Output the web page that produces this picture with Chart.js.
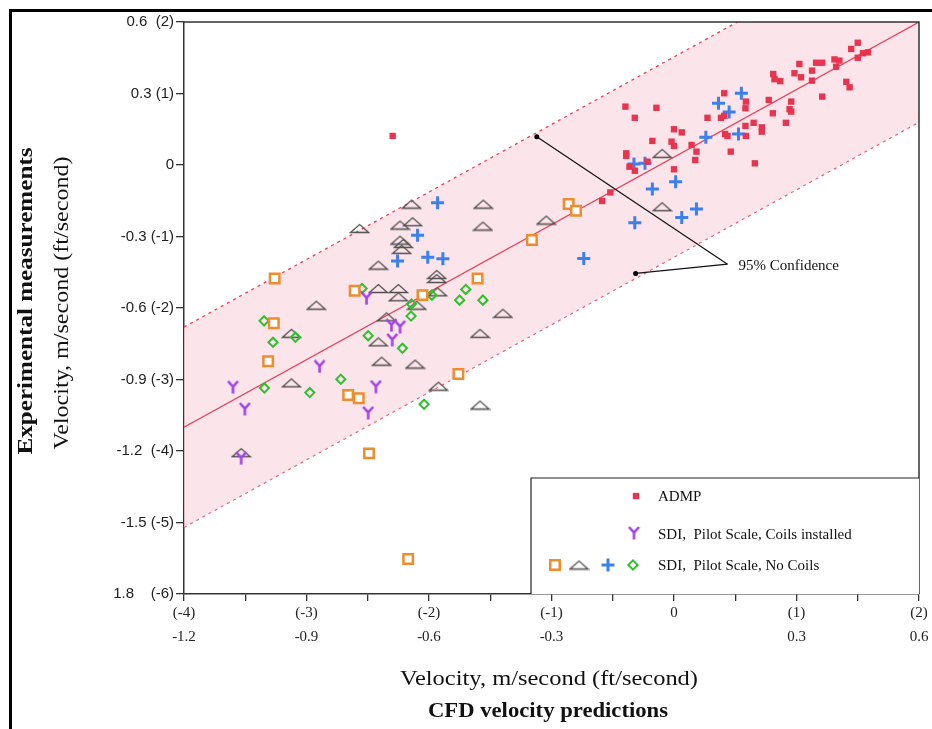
<!DOCTYPE html>
<html>
<head>
<meta charset="utf-8">
<script src="https://cdn.jsdelivr.net/npm/chart.js@4.4.1/dist/chart.umd.min.js"></script>
<style>
  html, body { margin: 0; padding: 0; background: #fff; }
  canvas { display: block; }
</style>
</head>
<body>
<canvas id="velChart" width="932" height="729"></canvas>
<script>
const admp = [
  [0.450, 0.513], [0.434, 0.487], [0.475, 0.473], [0.463, 0.469], [0.450, 0.450], [0.393, 0.443],
  [0.405, 0.438], [0.348, 0.429], [0.363, 0.429], [0.307, 0.424], [0.397, 0.412], [0.338, 0.396],
  [0.295, 0.385], [0.311, 0.368], [0.243, 0.382], [0.246, 0.360], [0.260, 0.352], [0.338, 0.354],
  [0.422, 0.349], [0.430, 0.326], [0.363, 0.287], [0.123, 0.301], [0.176, 0.266], [0.175, 0.238],
  [0.232, 0.273], [0.287, 0.266], [0.283, 0.234], [0.287, 0.224], [0.242, 0.217], [-0.119, 0.245],
  [-0.043, 0.240], [-0.096, 0.198], [0.082, 0.198], [0.115, 0.198], [0.123, 0.206], [0.195, 0.177],
  [0.274, 0.177], [0.000, 0.150], [0.019, 0.137], [0.175, 0.164], [0.215, 0.158], [0.215, 0.140],
  [0.125, 0.130], [0.131, 0.122], [0.176, 0.122], [-0.053, 0.101], [-0.006, 0.098], [0.000, 0.080],
  [0.043, 0.084], [0.055, 0.056], [0.139, 0.056], [-0.117, 0.049], [-0.117, 0.038], [0.052, 0.021],
  [-0.065, 0.014], [-0.109, -0.007], [-0.096, -0.024], [0.000, -0.018], [0.198, 0.007],
  [-0.156, -0.115], [-0.176, -0.151], [-0.689, 0.122]
];
const sdiCoils = [
  [-0.753, -0.559], [-0.692, -0.672], [-0.671, -0.679], [-0.690, -0.734], [-0.868, -0.845],
  [-1.080, -0.932], [-1.051, -1.024], [-0.730, -0.930], [-0.749, -1.040], [-1.060, -1.230]
];
const sdiSquares = [
  [-0.978, -0.476], [-0.348, -0.315], [-0.782, -0.528], [-0.616, -0.546], [-0.481, -0.476],
  [-0.980, -0.664], [-0.994, -0.823], [-0.798, -0.965], [-0.772, -0.979], [-0.528, -0.877],
  [-0.747, -1.210], [-0.651, -1.653], [-0.258, -0.164], [-0.240, -0.192]
];
const sdiTriangles = [
  [-0.643, -0.164], [-0.467, -0.164], [-0.313, -0.231], [-0.770, -0.266], [-0.671, -0.252],
  [-0.640, -0.238], [-0.468, -0.256], [-0.671, -0.315], [-0.663, -0.329], [-0.667, -0.354],
  [-0.724, -0.420], [-0.581, -0.459], [-0.581, -0.476], [-0.579, -0.532], [-0.724, -0.518],
  [-0.675, -0.518], [-0.675, -0.553], [-0.630, -0.588], [-0.876, -0.588], [-0.419, -0.622],
  [-0.704, -0.637], [-0.937, -0.706], [-0.475, -0.706], [-0.724, -0.742], [-0.716, -0.823],
  [-0.634, -0.835], [-0.937, -0.914], [-0.577, -0.928], [-0.475, -1.007], [-1.060, -1.207],
  [-0.029, 0.049], [-0.029, -0.175]
];
const sdiPlus = [
  [-0.579, -0.158], [-0.628, -0.295], [-0.677, -0.403], [-0.603, -0.387], [-0.566, -0.393],
  [0.165, 0.301], [0.109, 0.259], [0.135, 0.222], [0.078, 0.116], [0.158, 0.130],
  [-0.098, 0.004], [-0.071, 0.007], [0.004, -0.070], [-0.053, -0.101], [0.055, -0.185],
  [0.019, -0.220], [-0.096, -0.242], [-0.221, -0.392]
];
const sdiDiamonds = [
  [-0.764, -0.518], [-1.004, -0.654], [-0.927, -0.723], [-0.982, -0.744], [-0.749, -0.716],
  [-0.643, -0.583], [-0.644, -0.634], [-0.593, -0.546], [-0.510, -0.522], [-0.525, -0.567],
  [-0.468, -0.567], [-0.665, -0.769], [-0.816, -0.899], [-1.003, -0.936], [-0.892, -0.955],
  [-0.612, -1.004]
];

// regression line and 95% band
const fitX = [-1.2, 0.6];
const fitY = [-1.10, 0.60];
const upperY = [-0.68, 1.02];
const lowerY = [-1.52, 0.18];
// "95% Confidence" leader lines
const leaderTop = [[-0.336, 0.119], [0.131, -0.416]];
const leaderBottom = [[-0.094, -0.455], [0.131, -0.416]];

const xTickLabels = [['(-4)', '-1.2'], '', ['(-3)', '-0.9'], '', ['(-2)', '-0.6'], '', ['(-1)', '-0.3'], '',
  ['0', ''], '', ['(1)', '0.3'], '', ['(2)', '0.6']];
const yTickLabels = ['1.8    (-6)', '-1.5 (-5)', '-1.2  (-4)', '-0.9 (-3)', '-0.6 (-2)',
  '-0.3 (-1)', '0', '0.3 (1)', '0.6  (2)'];

const RED = '#e8344f';
const PURPLE = '#a043ee';
const ORANGE = '#ef8c2c';
const GREY = '#505050';
const BLUE = '#3b80ee';
const GREEN = '#2ec02e';
const BAND = '#e8405a';

const pts = arr => arr.map(p => ({ x: p[0], y: p[1] }));
const line = (xs, ys) => xs.map((x, i) => ({ x: x, y: ys[i] }));

// custom marker shapes
function makeY() {
  const c = document.createElement('canvas');
  c.width = 13; c.height = 14;
  const g = c.getContext('2d');
  g.strokeStyle = PURPLE; g.lineWidth = 2.6; g.lineCap = 'butt';
  g.beginPath();
  g.moveTo(1.5, 1); g.lineTo(6.5, 6.5); g.lineTo(11.5, 1);
  g.moveTo(6.5, 6.5); g.lineTo(6.5, 13.5);
  g.stroke();
  return c;
}
function makeTri() {
  const c = document.createElement('canvas');
  c.width = 21; c.height = 11;
  const g = c.getContext('2d');
  g.strokeStyle = GREY; g.lineWidth = 1.3;
  g.beginPath();
  g.moveTo(1.5, 9.5); g.lineTo(10.5, 1.5); g.lineTo(19.5, 9.5); g.closePath();
  g.stroke();
  return c;
}
const yMark = makeY();
const triMark = makeTri();

function fitText(ctx, text, font, cx, cy, w, rot) {
  ctx.save();
  ctx.font = font;
  const m = ctx.measureText(text).width;
  ctx.translate(cx, cy);
  ctx.rotate(rot);
  ctx.scale(w / m, 1);
  ctx.textAlign = 'center';
  ctx.textBaseline = 'middle';
  ctx.fillStyle = '#111';
  ctx.fillText(text, 0, 0);
  ctx.restore();
}

function marker(ctx, style, radius, bw, fill, stroke, x, y) {
  ctx.save();
  ctx.fillStyle = fill;
  ctx.strokeStyle = stroke;
  ctx.lineWidth = bw;
  Chart.helpers.drawPoint(ctx, { pointStyle: style, radius: radius, rotation: 0, borderWidth: bw }, x, y);
  ctx.restore();
}

const extras = {
  id: 'extras',
  afterDraw(chart) {
    const ctx = chart.ctx;
    const a = chart.chartArea;
    const xs = chart.scales.x, ys = chart.scales.y;

    // outer frame (left and top)
    ctx.save();
    ctx.fillStyle = '#000';
    ctx.fillRect(9, 9, 3, 720);
    ctx.fillRect(9, 9, 923, 3);

    // top and right plot border
    ctx.strokeStyle = '#333';
    ctx.lineWidth = 1.5;
    ctx.beginPath();
    ctx.moveTo(a.left, a.top); ctx.lineTo(a.right, a.top); ctx.lineTo(a.right, a.bottom);
    ctx.stroke();

    // leader label
    const lx = xs.getPixelForValue(leaderTop[1][0]);
    const ly = ys.getPixelForValue(leaderTop[1][1]);
    ctx.font = '15px "Liberation Serif"';
    ctx.fillStyle = '#111';
    ctx.textBaseline = 'middle';
    ctx.fillText('95% Confidence', lx + 11, ly + 2);

    // legend box
    const bx = a.right - 388, by = a.bottom - 116;
    ctx.fillStyle = '#fff';
    ctx.fillRect(bx, by, a.right - bx, a.bottom - by);
    ctx.strokeStyle = '#222';
    ctx.lineWidth = 1.2;
    ctx.beginPath();
    ctx.moveTo(bx, a.bottom); ctx.lineTo(bx, by); ctx.lineTo(a.right, by);
    ctx.stroke();
    ctx.restore();

    const r1 = by + 18, r2 = by + 55, r3 = by + 87;
    marker(ctx, 'rect', 4.5, 0, RED, RED, bx + 105, r1);
    marker(ctx, yMark, 0, 0, PURPLE, PURPLE, bx + 103, r2);
    marker(ctx, 'rect', 6.7, 2.5, '#fff', ORANGE, bx + 24, r3);
    marker(ctx, triMark, 0, 0, GREY, GREY, bx + 48, r3);
    marker(ctx, 'cross', 6.5, 3, BLUE, BLUE, bx + 77, r3);
    marker(ctx, 'rectRot', 4.6, 2, 'rgba(0,0,0,0)', GREEN, bx + 102, r3);

    ctx.save();
    ctx.font = '15px "Liberation Serif"';
    ctx.fillStyle = '#111';
    ctx.textBaseline = 'middle';
    ctx.fillText('ADMP', bx + 127, r1 + 1);
    ctx.fillText('SDI,  Pilot Scale, Coils installed', bx + 127, r2 + 2);
    ctx.fillText('SDI,  Pilot Scale, No Coils', bx + 127, r3 + 1);
    ctx.restore();

    // axis titles
    fitText(ctx, 'Experimental measurements', 'bold 21px "Liberation Serif"', 27, 301, 307, -Math.PI / 2);
    fitText(ctx, 'Velocity, m/second (ft/second)', '20px "Liberation Serif"', 63, 303, 293, -Math.PI / 2);
    fitText(ctx, 'Velocity, m/second (ft/second)', '20px "Liberation Serif"', 549, 680, 298, 0);
    fitText(ctx, 'CFD velocity predictions', 'bold 21px "Liberation Serif"', 548, 712, 240, 0);
  }
};

const ctx = document.getElementById('velChart').getContext('2d');

const config = {
  type: 'scatter',
  data: {
    datasets: [
      {
        type: 'line', data: line(fitX, upperY), borderColor: BAND, borderWidth: 1.3,
        borderDash: [3, 4], pointRadius: 0, fill: '+2', backgroundColor: 'rgba(250, 212, 222, 0.62)', order: 10
      },
      { type: 'line', data: line(fitX, fitY), borderColor: BAND, borderWidth: 1.2, pointRadius: 0, fill: false, order: 9 },
      { type: 'line', data: line(fitX, lowerY), borderColor: BAND, borderWidth: 1.3, borderDash: [3, 4], pointRadius: 0, fill: false, order: 10 },
      {
        type: 'line', data: pts(leaderTop), borderColor: '#111', borderWidth: 1.2,
        pointRadius: [2.5, 0], pointBackgroundColor: '#000', pointBorderWidth: 0, fill: false, order: 8
      },
      {
        type: 'line', data: pts(leaderBottom), borderColor: '#111', borderWidth: 1.2,
        pointRadius: [2.5, 0], pointBackgroundColor: '#000', pointBorderWidth: 0, fill: false, order: 8
      },
      { label: 'SDI triangles', data: pts(sdiTriangles), pointStyle: triMark, pointRadius: 8, order: 5 },
      {
        label: 'SDI diamonds', data: pts(sdiDiamonds), pointStyle: 'rectRot', pointRadius: 4.6,
        borderWidth: 2, borderColor: GREEN, backgroundColor: 'rgba(0,0,0,0)', order: 4
      },
      {
        label: 'SDI squares', data: pts(sdiSquares), pointStyle: 'rect', pointRadius: 6.7,
        borderWidth: 2.5, borderColor: ORANGE, backgroundColor: '#fff', order: 3
      },
      { label: 'SDI coils', data: pts(sdiCoils), pointStyle: yMark, pointRadius: 7, order: 2 },
      {
        label: 'SDI plus', data: pts(sdiPlus), pointStyle: 'cross', pointRadius: 6.5,
        borderWidth: 3, borderColor: BLUE, backgroundColor: BLUE, order: 1
      },
      {
        label: 'ADMP', data: pts(admp), pointStyle: 'rect', pointRadius: 4.5,
        borderWidth: 0, backgroundColor: RED, borderColor: RED, order: 0
      }
    ]
  },
  options: {
    responsive: false,
    animation: false,
    events: [],
    layout: { padding: { top: 22, right: 13, left: 0, bottom: 0 } },
    plugins: { legend: { display: false }, tooltip: { enabled: false } },
    scales: {
      x: {
        type: 'linear', min: -1.2, max: 0.6,
        afterFit: s => { s.height = 135; },
        grid: { drawOnChartArea: false, drawTicks: true, tickLength: 7, color: '#333', lineWidth: 1.3 },
        border: { display: true, color: '#333', width: 1.5 },
        ticks: {
          stepSize: 0.15, autoSkip: false, maxRotation: 0, padding: 0, color: '#222',
          font: { family: 'Liberation Serif', size: 15, lineHeight: 1.6 },
          callback: (v, i) => xTickLabels[i]
        }
      },
      y: {
        type: 'linear', min: -1.8, max: 0.6,
        afterFit: s => { s.width = 184; },
        grid: { drawOnChartArea: false, drawTicks: true, tickLength: 8, color: '#333', lineWidth: 1.3 },
        border: { display: true, color: '#333', width: 1.5 },
        ticks: {
          stepSize: 0.3, autoSkip: false, padding: 2, color: '#222',
          font: { family: 'Liberation Sans', size: 15 },
          callback: (v, i) => yTickLabels[i]
        }
      }
    }
  },
  plugins: [extras]
};

const velChart = new Chart(ctx, config);
</script>
</body>
</html>
